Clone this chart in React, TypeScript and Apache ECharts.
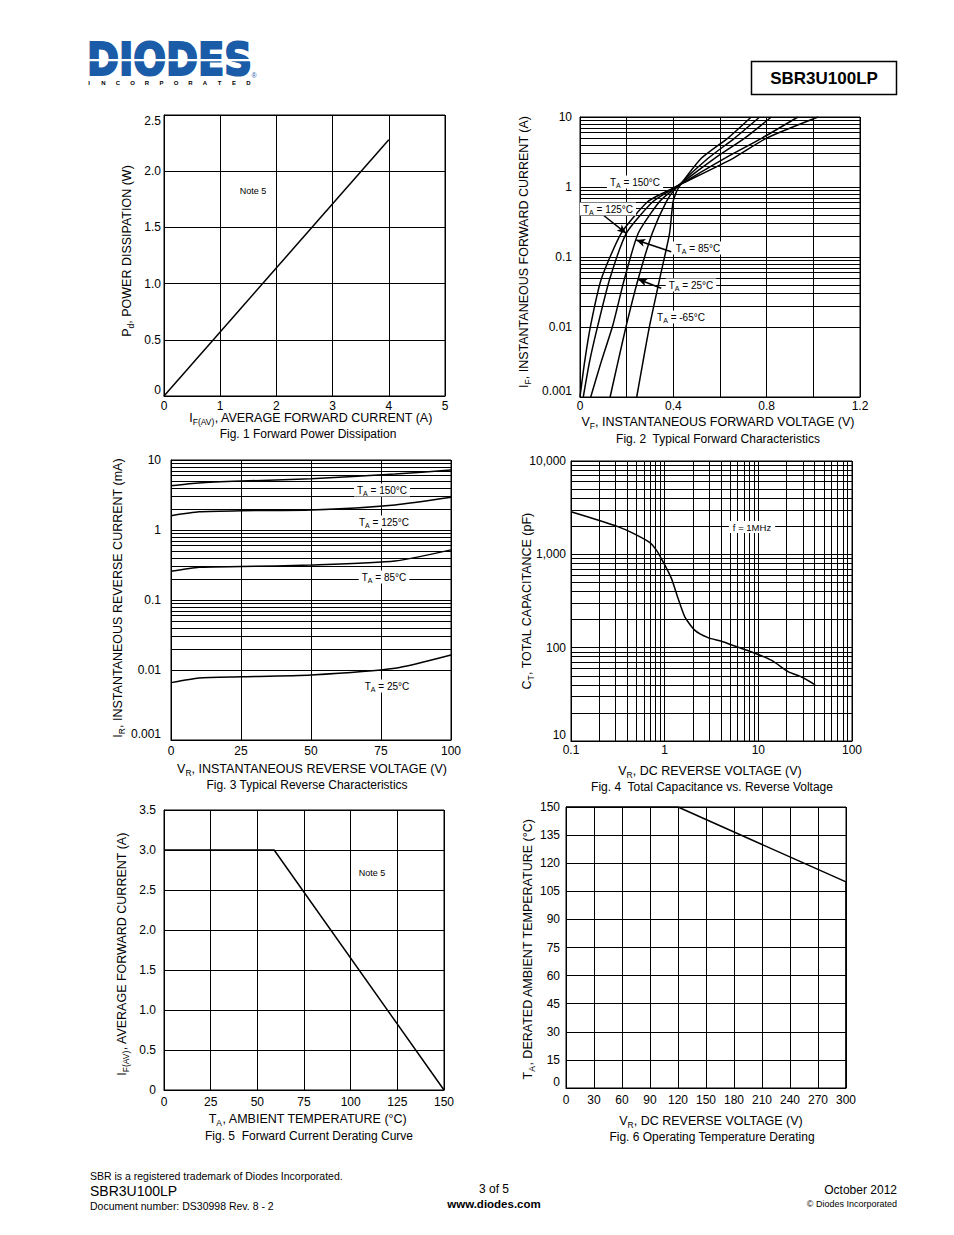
import React, { useEffect, useRef } from 'react';
import * as echarts from 'echarts';

const FONT = '"Liberation Sans", Arial, Helvetica, sans-serif';
const LOGO_BLUE = '#1b5ca8';

// ---------- Fig 1: Forward power dissipation ----------
const fig1Current = [0, 4];
const fig1Power = [0, 2.28];

// ---------- Fig 2: Typical forward characteristics ----------
const fig2Current = [0.001, 0.0032, 0.0107, 0.048, 0.22, 0.62, 0.95, 2.57, 5.0, 10];
const fig2V150 = [0.0, 0.02, 0.046, 0.091, 0.177, 0.291, 0.395, 0.656, 0.8, 1.02];
const fig2V125 = [0.014, 0.041, 0.077, 0.127, 0.199, 0.313, 0.4, 0.62, 0.78, 0.934];
const fig2V85 = [0.046, 0.091, 0.141, 0.19, 0.25, 0.341, 0.405, 0.577, 0.706, 0.82];
const fig2V25 = [0.129, 0.163, 0.199, 0.249, 0.31, 0.37, 0.41, 0.549, 0.663, 0.77];
const fig2Vm65 = [0.243, 0.27, 0.299, 0.341, 0.384, 0.399, 0.42, 0.52, 0.634, 0.734];
// arrows: [fromV, fromI, toV, toI]
const fig2Arrows = [
  [0.099, 0.398, 0.198, 0.218],
  [0.391, 0.119, 0.241, 0.175],
  [0.348, 0.0357, 0.249, 0.048],
];

// ---------- Fig 3: Typical reverse characteristics ----------
const fig3Voltage = [0, 10, 25, 50, 80, 100];
const fig3I150 = [4.3, 4.7, 5.0, 5.4, 6.3, 7.2];
const fig3I125 = [1.6, 1.82, 1.89, 1.93, 2.28, 2.93];
const fig3I85 = [0.257, 0.293, 0.3, 0.316, 0.36, 0.52];
const fig3I25 = [0.0066, 0.0077, 0.008, 0.0085, 0.0106, 0.0164];

// ---------- Fig 4: Total capacitance vs reverse voltage ----------
const fig4Voltage = [0.1, 0.193, 0.316, 0.44, 0.69, 0.815, 0.96, 1.18, 1.39, 1.64, 2.09, 2.9, 4.05, 5.6, 8.5, 13.9, 21, 29, 40.5];
const fig4Cap = [2860, 2330, 1980, 1720, 1345, 1110, 834, 553, 338, 214, 154, 128, 117, 104, 90, 73, 55, 48.5, 40];

// ---------- Fig 5: Forward current derating ----------
const fig5Temp = [0, 59, 150];
const fig5Current = [3, 3, 0];

// ---------- Fig 6: Operating temperature derating ----------
const fig6Voltage = [0, 120, 300, 300];
const fig6Temp = [150, 150, 110, 0];

// log-paper minor gridline multipliers
const MINOR = [2, 3, 4, 5, 6, 7, 8, 9];
const decadesIF = [0.001, 0.01, 0.1, 1];
const decadesIR = [0.001, 0.01, 0.1, 1];
const decadesVR4 = [0.1, 1, 10];
const decadesCT = [10, 100, 1000];

const minors = (decs: number[]) => decs.flatMap((d) => MINOR.map((m) => +(d * m).toPrecision(3)));

const zip = (a: number[], b: number[]) => a.map((v, i) => [v, b[i]]);

const logFmt = (v: number) => {
  const e = Math.round(Math.log10(v));
  const map: Record<string, string> = { '-3': '0.001', '-2': '0.01', '-1': '0.1', '0': '1', '1': '10', '2': '100', '3': '1,000', '4': '10,000' };
  return map[String(e)] ?? String(v);
};
const fix1 = (v: number) => (v === 0 ? '0' : v.toFixed(1));

const RICH = {
  n: { fontSize: 12.5, fontFamily: FONT, fill: '#000', lineHeight: 16 },
  s: { fontSize: 8.5, fontFamily: FONT, fill: '#000', lineHeight: 16, verticalAlign: 'bottom' },
};
const RICH_L = {
  n: { fontSize: 10, fontFamily: FONT, fill: '#000', lineHeight: 13 },
  s: { fontSize: 7, fontFamily: FONT, fill: '#000', lineHeight: 13, verticalAlign: 'bottom' },
};
const sub = (a: string, s: string, r: string) => `{n|${a}}{s|${s}}{n|${r}}`;

function axisTitle(x: number, y: number, text: string, rotate = false) {
  return {
    type: 'text',
    x,
    y,
    rotation: rotate ? Math.PI / 2 : 0,
    z: 100,
    style: { text, rich: RICH, align: 'center', verticalAlign: 'middle', textAlign: 'center', textVerticalAlign: 'middle' },
  };
}
function plain(x: number, y: number, text: string, size = 12, align = 'center', weight = 'normal', color = '#000') {
  return {
    type: 'text',
    x,
    y,
    z: 100,
    style: {
      text,
      fill: color,
      fontSize: size,
      fontFamily: FONT,
      fontWeight: weight,
      align,
      verticalAlign: 'middle',
      textAlign: align,
      textVerticalAlign: 'middle',
    },
  };
}
function boxLabel(x: number, y: number, text: string) {
  return {
    type: 'text',
    x,
    y,
    z: 100,
    style: {
      text,
      rich: RICH_L,
      align: 'center',
      verticalAlign: 'middle',
      textAlign: 'center',
      textVerticalAlign: 'middle',
      backgroundColor: '#fff',
      padding: [0, 3],
    },
  };
}

const GRID_LINE = { color: '#000', width: 1 };

function axis(gridIndex: number, opts: any, margin: number) {
  return {
    gridIndex,
    axisLine: { show: true, lineStyle: GRID_LINE },
    axisTick: { show: false },
    splitLine: { show: true, lineStyle: GRID_LINE },
    ...opts,
    axisLabel: { color: '#000', fontSize: 12, fontFamily: FONT, margin, ...(opts.axisLabel || {}) },
  };
}

function curve(xi: number, data: number[][], smooth: number | boolean = false, extra: any = {}) {
  return {
    type: 'line',
    xAxisIndex: xi,
    yAxisIndex: xi,
    data,
    symbol: 'none',
    smooth,
    lineStyle: { color: '#000', width: 1.5 },
    silent: true,
    z: 3,
    ...extra,
  };
}

function minorMarkLine(items: any[]) {
  return {
    silent: true,
    symbol: ['none', 'none'],
    label: { show: false },
    lineStyle: { color: '#000', width: 1, type: 'solid' },
    emphasis: { disabled: true },
    animation: false,
    z: 1,
    data: items,
  };
}

const INC = 'INCORPORATED'.split('');

export default function App() {
  const ref = useRef<HTMLDivElement>(null);
  useEffect(() => {
    if (!ref.current) return;
    const chart = echarts.init(ref.current, null, { renderer: 'svg', width: 954, height: 1235 });

    const grids = [
      { left: 164, top: 115, width: 281, height: 281 },
      { left: 580, top: 117, width: 280, height: 280 },
      { left: 171, top: 460, width: 280, height: 280 },
      { left: 571, top: 461, width: 281, height: 280 },
      { left: 164, top: 810, width: 280, height: 280 },
      { left: 566, top: 807, width: 280, height: 281 },
    ].map((g) => ({ ...g, show: true, borderColor: '#000', borderWidth: 1, backgroundColor: 'transparent' }));

    const xAxis = [
      axis(0, { type: 'value', min: 0, max: 5, interval: 1 }, 4),
      axis(1, {
        type: 'value', min: 0, max: 1.2, interval: 0.2,
        axisLabel: { formatter: (v: number) => (Math.abs(v / 0.4 - Math.round(v / 0.4)) < 1e-6 ? (v === 0 ? '0' : v.toFixed(1)) : '') },
      }, 3),
      axis(2, { type: 'value', min: 0, max: 100, interval: 25 }, 5),
      axis(3, { type: 'log', logBase: 10, min: 0.1, max: 100, axisLabel: { formatter: logFmt } }, 3),
      axis(4, { type: 'value', min: 0, max: 150, interval: 25 }, 6),
      axis(5, { type: 'value', min: 0, max: 300, interval: 30 }, 6),
    ];
    const yAxis = [
      axis(0, { type: 'value', min: 0, max: 2.5, interval: 0.5, axisLabel: { formatter: fix1, verticalAlignMinLabel: 'bottom', verticalAlignMaxLabel: 'top' } }, 3),
      axis(1, { type: 'log', logBase: 10, min: 0.001, max: 10, axisLabel: { formatter: logFmt, verticalAlignMinLabel: 'bottom' } }, 8),
      axis(2, { type: 'log', logBase: 10, min: 0.001, max: 10, axisLabel: { formatter: logFmt, verticalAlignMinLabel: 'bottom' } }, 10),
      axis(3, { type: 'log', logBase: 10, min: 10, max: 10000, axisLabel: { formatter: logFmt, verticalAlignMinLabel: 'bottom' } }, 5),
      axis(4, { type: 'value', min: 0, max: 3.5, interval: 0.5, axisLabel: { formatter: fix1 } }, 8),
      axis(5, { type: 'value', min: 0, max: 150, interval: 15, axisLabel: { verticalAlignMinLabel: 'bottom' } }, 6),
    ];

    const series: any[] = [
      curve(0, zip(fig1Current, fig1Power)),
      curve(1, zip(fig2V150, fig2Current), 0.2, { markLine: minorMarkLine(minors(decadesIF).map((v) => ({ yAxis: v }))) }),
      curve(1, zip(fig2V125, fig2Current), 0.2, {
        markLine: {
          silent: true,
          symbol: ['none', 'arrow'],
          symbolSize: [6, 9],
          label: { show: false },
          lineStyle: { color: '#000', width: 1.5, type: 'solid' },
          itemStyle: { color: '#000' },
          emphasis: { disabled: true },
          animation: false,
          z: 5,
          data: fig2Arrows.map((a) => [{ coord: [a[0], a[1]] }, { coord: [a[2], a[3]] }]),
        },
      }),
      curve(1, zip(fig2V85, fig2Current), 0.2),
      curve(1, zip(fig2V25, fig2Current), 0.2),
      curve(1, zip(fig2Vm65, fig2Current), 0.2),
      curve(2, zip(fig3Voltage, fig3I150), 0.2, { markLine: minorMarkLine(minors(decadesIR).map((v) => ({ yAxis: v }))) }),
      curve(2, zip(fig3Voltage, fig3I125), 0.2),
      curve(2, zip(fig3Voltage, fig3I85), 0.2),
      curve(2, zip(fig3Voltage, fig3I25), 0.2),
      curve(3, zip(fig4Voltage, fig4Cap), 0.2, {
        markLine: minorMarkLine([
          ...minors(decadesVR4).map((v) => ({ xAxis: v })),
          ...minors(decadesCT).map((v) => ({ yAxis: v })),
        ]),
      }),
      curve(4, zip(fig5Temp, fig5Current)),
      curve(5, zip(fig6Voltage, fig6Temp)),
    ];

    const graphic: any[] = [
      // logo
      {
        type: 'text', x: 87, y: 60, scaleX: 0.875, z: 100,
        style: { text: 'DIODES', fill: LOGO_BLUE, stroke: LOGO_BLUE, lineWidth: 2.2, fontSize: 44, fontWeight: 'bold', fontFamily: '"DejaVu Sans", sans-serif', align: 'left', verticalAlign: 'middle', textAlign: 'left', textVerticalAlign: 'middle' },
      },
      { type: 'rect', z: 101, shape: { x: 84, y: 59, width: 172, height: 2.2 }, style: { fill: '#fff' } },
      plain(254, 75, '®', 7, 'center', 'normal', LOGO_BLUE),
      ...INC.map((c, i) => plain(89 + i * 14.5, 83, c, 6, 'center', 'bold')),
      // part number box
      { type: 'rect', z: 100, shape: { x: 751.5, y: 61.5, width: 145, height: 33 }, style: { fill: '#fff', stroke: '#000', lineWidth: 1.5 } },
      plain(824, 78, 'SBR3U100LP', 17, 'center', 'bold'),

      // Fig 1
      axisTitle(127, 251, sub('P', 'd', ', POWER DISSIPATION (W)'), true),
      axisTitle(311, 418, sub('I', 'F(AV)', ', AVERAGE FORWARD CURRENT (A)')),
      plain(308, 434, 'Fig. 1 Forward Power Dissipation', 12),
      plain(253, 191, 'Note 5', 9),

      // Fig 2
      axisTitle(524, 252, sub('I', 'F', ', INSTANTANEOUS FORWARD CURRENT (A)'), true),
      axisTitle(718, 422, sub('V', 'F', ', INSTANTANEOUS FORWARD VOLTAGE (V)')),
      plain(718, 439, 'Fig. 2  Typical Forward Characteristics', 12),
      boxLabel(635, 182, sub('T', 'A', ' = 150°C')),
      boxLabel(608, 209, sub('T', 'A', ' = 125°C')),
      boxLabel(698, 248, sub('T', 'A', ' = 85°C')),
      boxLabel(691, 285, sub('T', 'A', ' = 25°C')),
      boxLabel(681, 317, sub('T', 'A', ' = -65°C')),

      // Fig 3
      axisTitle(118, 598, sub('I', 'R', ', INSTANTANEOUS REVERSE CURRENT (mA)'), true),
      axisTitle(312, 769, sub('V', 'R', ', INSTANTANEOUS REVERSE VOLTAGE (V)')),
      plain(307, 785, 'Fig. 3 Typical Reverse Characteristics', 12),
      boxLabel(382, 490, sub('T', 'A', ' = 150°C')),
      boxLabel(384, 522, sub('T', 'A', ' = 125°C')),
      boxLabel(384, 577, sub('T', 'A', ' = 85°C')),
      boxLabel(387, 686, sub('T', 'A', ' = 25°C')),

      // Fig 4
      axisTitle(527, 601, sub('C', 'T', ', TOTAL CAPACITANCE (pF)'), true),
      axisTitle(710, 771, sub('V', 'R', ', DC REVERSE VOLTAGE (V)')),
      plain(712, 787, 'Fig. 4  Total Capacitance vs. Reverse Voltage', 12),
      {
        type: 'text', x: 752, y: 527, z: 100,
        style: { text: 'f = 1MHz', fill: '#000', fontSize: 9.5, fontFamily: FONT, align: 'center', verticalAlign: 'middle', textAlign: 'center', textVerticalAlign: 'middle', backgroundColor: '#fff', padding: [1, 4] },
      },

      // Fig 5
      axisTitle(122, 954, sub('I', 'F(AV)', ', AVERAGE FORWARD CURRENT (A)'), true),
      axisTitle(308, 1119, sub('T', 'A', ', AMBIENT TEMPERATURE (°C)')),
      plain(309, 1136, 'Fig. 5  Forward Current Derating Curve', 12),
      plain(372, 873, 'Note 5', 9),

      // Fig 6
      axisTitle(528, 949, sub('T', 'A', ', DERATED AMBIENT TEMPERATURE (°C)'), true),
      axisTitle(711, 1121, sub('V', 'R', ', DC REVERSE VOLTAGE (V)')),
      plain(712, 1137, 'Fig. 6 Operating Temperature Derating', 12),

      // footer
      plain(90, 1176, 'SBR is a registered trademark of Diodes Incorporated.', 10.5, 'left'),
      plain(90, 1191, 'SBR3U100LP', 14, 'left'),
      plain(90, 1206, 'Document number: DS30998 Rev. 8 - 2', 10.5, 'left'),
      plain(494, 1189, '3 of 5', 12),
      plain(494, 1204, 'www.diodes.com', 11.5, 'center', 'bold'),
      plain(897, 1190, 'October 2012', 12, 'right'),
      plain(897, 1204, '© Diodes Incorporated', 9, 'right'),
    ];

    chart.setOption({
      animation: false,
      backgroundColor: '#fff',
      textStyle: { fontFamily: FONT },
      grid: grids,
      xAxis,
      yAxis,
      series,
      graphic,
    });
    return () => chart.dispose();
  }, []);
  return <div ref={ref} style={{ position: 'absolute', left: 0, top: 0, width: 954, height: 1235, background: '#fff' }} />;
}
